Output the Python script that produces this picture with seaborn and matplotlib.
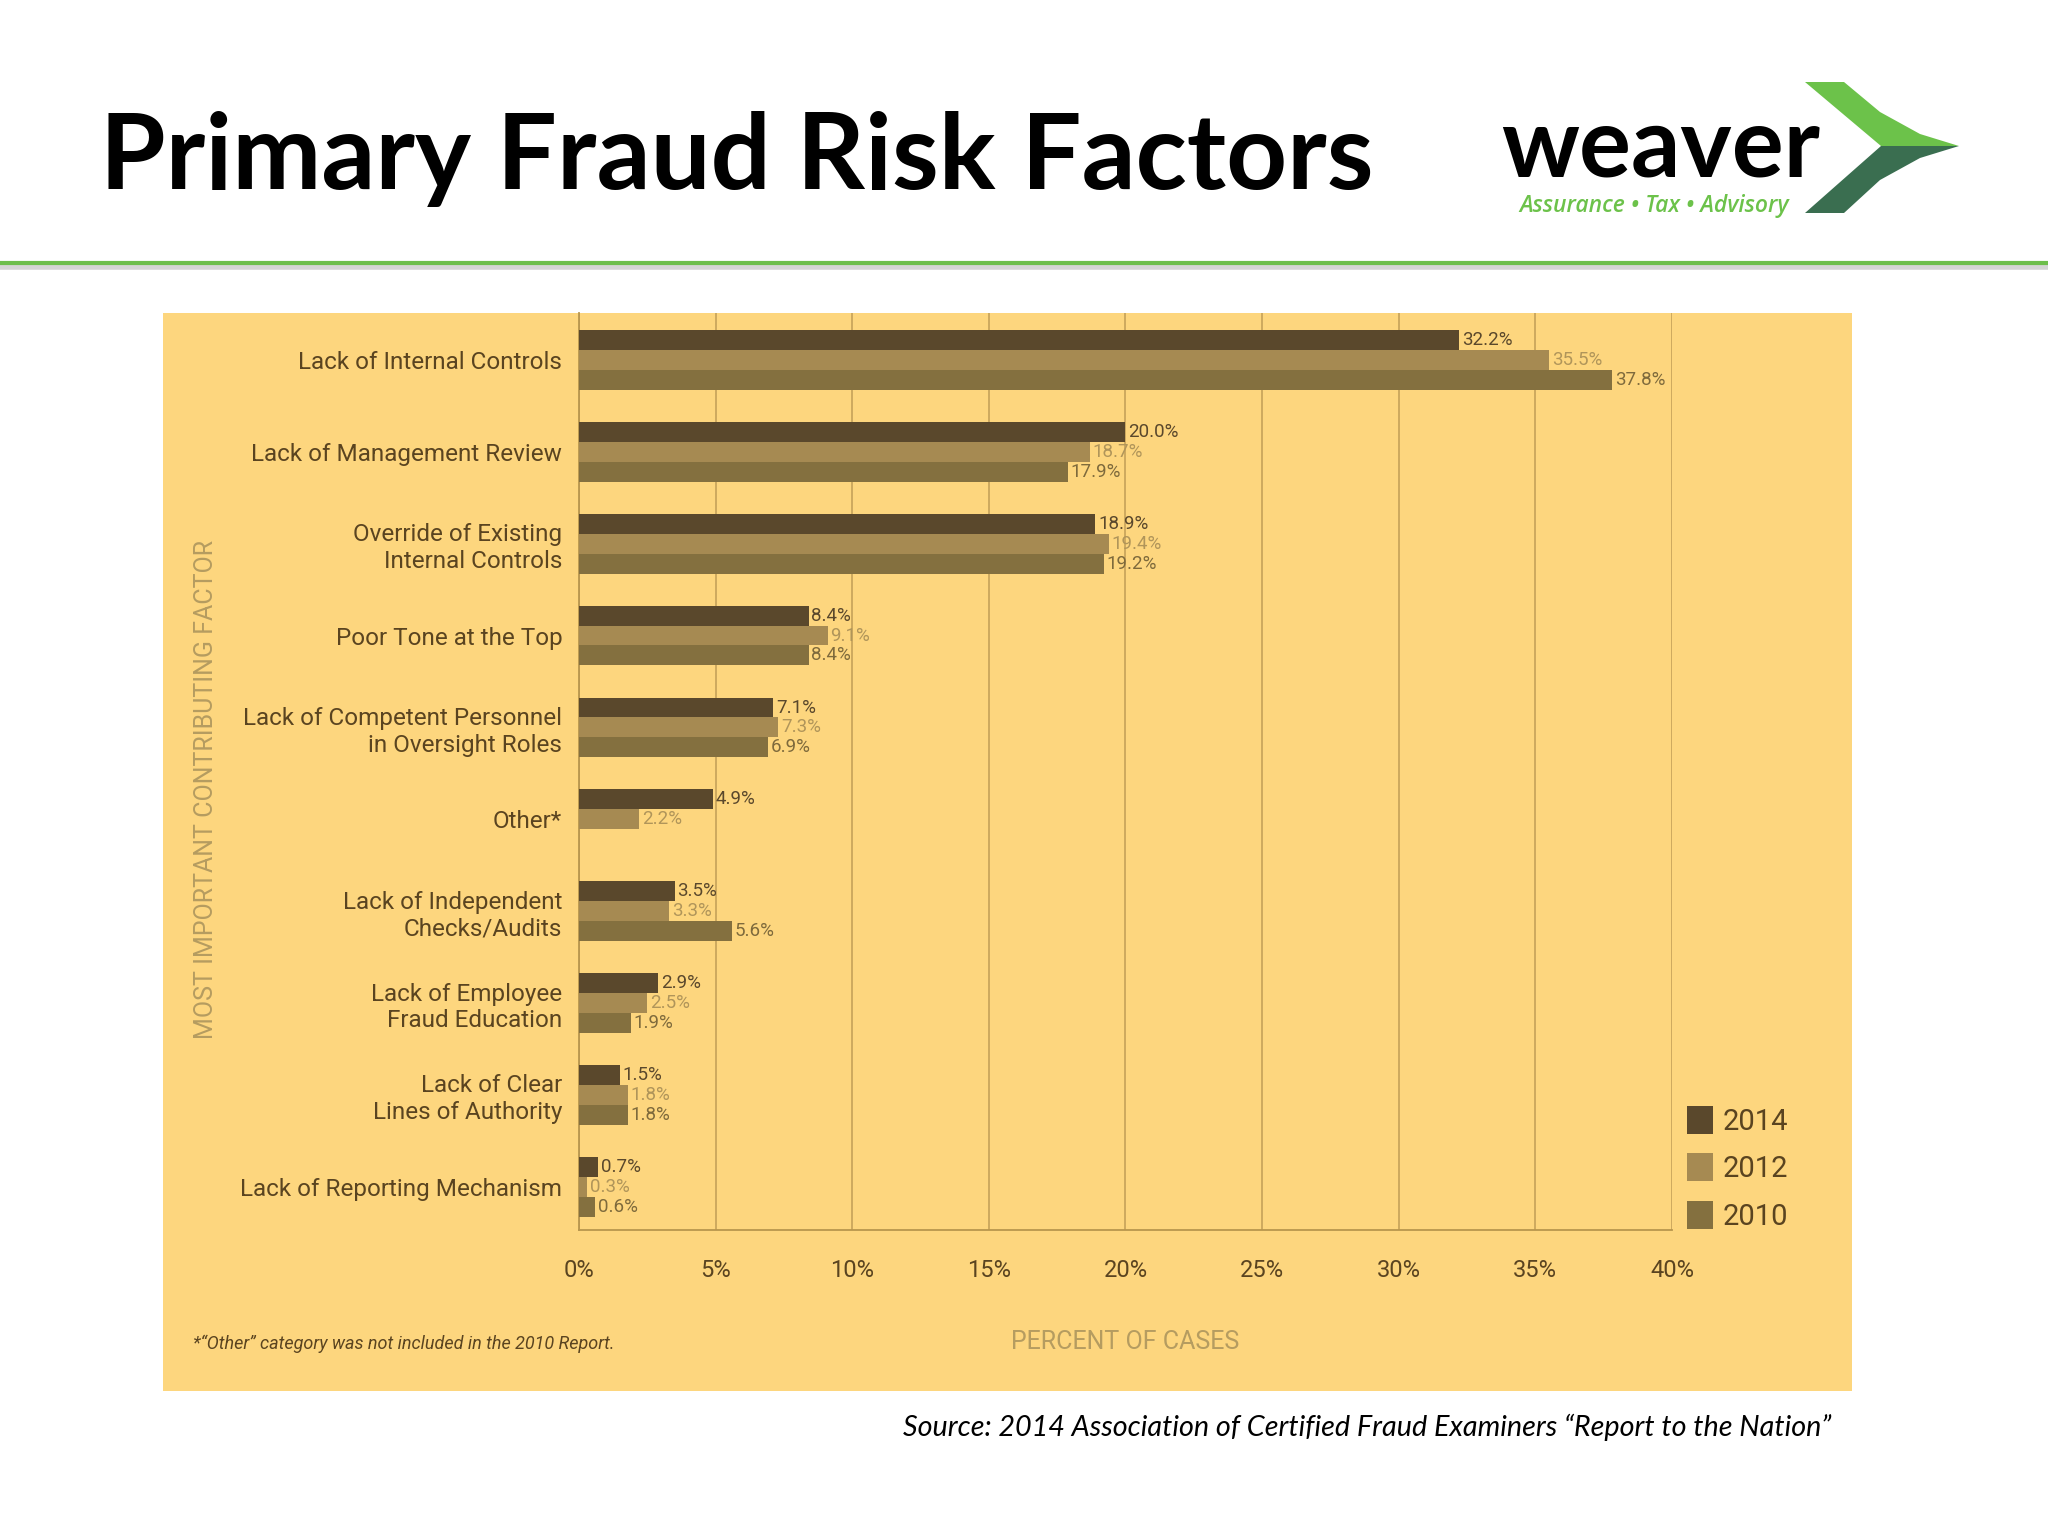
"""Primary Fraud Risk Factors - grouped horizontal bars (2014 / 2012 / 2010)."""
import numpy as np
import pandas as pd
import matplotlib
matplotlib.use('Agg')
import matplotlib.pyplot as plt
from matplotlib.patches import Rectangle, Polygon, Patch
from matplotlib.lines import Line2D
import seaborn as sns

# ── data ────────────────────────────────────────────────────────────────
FACTORS = ['Lack of Internal Controls', 'Lack of Management Review',
           'Override of Existing\nInternal Controls', 'Poor Tone at the Top',
           'Lack of Competent Personnel\nin Oversight Roles', 'Other*',
           'Lack of Independent\nChecks/Audits', 'Lack of Employee\nFraud Education',
           'Lack of Clear\nLines of Authority', 'Lack of Reporting Mechanism']
YEARS = ['2014', '2012', '2010']
PCT_2014 = [32.2, 20.0, 18.9, 8.4, 7.1, 4.9, 3.5, 2.9, 1.5, 0.7]
PCT_2012 = [35.5, 18.7, 19.4, 9.1, 7.3, 2.2, 3.3, 2.5, 1.8, 0.3]
PCT_2010 = [37.8, 17.9, 19.2, 8.4, 6.9, np.nan, 5.6, 1.9, 1.8, 0.6]
XTICKS = [0, 5, 10, 15, 20, 25, 30, 35, 40]

BG = '#FDD67E'
BAR_COLS = ['#5A482C', '#A68A52', '#84703F']
LBL_COLS = ['#5A482C', '#B0955A', '#7E6A3C']
TXT = '#5A4420'
NARROW = ['Liberation Sans Narrow', 'Roboto', 'DejaVu Sans']

df = pd.DataFrame({'factor': FACTORS * 3,
                   'year': np.repeat(YEARS, len(FACTORS)),
                   'pct': PCT_2014 + PCT_2012 + PCT_2010}).dropna()

sns.set_style('white')
plt.rcParams['font.family'] = NARROW

fig = plt.figure(figsize=(20.48, 15.36), dpi=100)
fig.patch.set_facecolor('white')

# yellow panel behind the chart
fig.patches.append(Rectangle((0.0796, 0.0944), 0.8247, 0.7018, transform=fig.transFigure,
                             facecolor=BG, edgecolor='none', zorder=-5))

ax = fig.add_axes([0.2827, 0.1992, 0.5337, 0.597])
ax.set_zorder(2)
ax.set_facecolor(BG)
sns.barplot(data=df, y='factor', x='pct', hue='year', order=FACTORS, hue_order=YEARS,
            palette=BAR_COLS, orient='h', width=0.65, saturation=1, dodge=True,
            linewidth=0, ax=ax, legend=False, zorder=3)

for cont, col in zip(ax.containers, LBL_COLS):
    ax.bar_label(cont, labels=[f'{v:.1f}%' for v in cont.datavalues], padding=2,
                 color=col, fontsize=13.5, family=NARROW)

ax.set_xlim(0, 40)
ax.set_ylim(9.47, -0.51)
ax.set_xticks(XTICKS)
ax.set_xticklabels([f'{t}%' for t in XTICKS])
ax.xaxis.grid(True, color='#C9A65C', linewidth=1.3, zorder=0)
ax.yaxis.grid(False)
ax.set_axisbelow(True)
for s in ['left', 'bottom']:
    ax.spines[s].set_color('#B8964E')
    ax.spines[s].set_linewidth(1.3)
for s in ['top', 'right']:
    ax.spines[s].set_visible(False)
ax.tick_params(axis='y', length=0, pad=12, labelsize=17.5, labelcolor=TXT)
ax.tick_params(axis='x', length=0, pad=21, labelsize=17, labelcolor=TXT)

ax.set_xlabel('PERCENT OF CASES', fontsize=18, color='#B59C60')
ax.xaxis.set_label_coords(0.5, -0.109)
ax.set_ylabel('MOST IMPORTANT CONTRIBUTING FACTOR', fontsize=18, color='#B59C60')
ax.yaxis.set_label_coords(-0.330, 0.48)

handles = [Patch(facecolor=c, edgecolor='none') for c in BAR_COLS]
fig.legend(handles, YEARS, loc='upper left', bbox_to_anchor=(0.811, 0.297),
           frameon=False, handlelength=0.9, handleheight=1.1, handletextpad=0.3,
           labelspacing=0.6, fontsize=21, labelcolor=TXT)

fig.text(0.094, 0.125, '*\u201cOther\u201d category was not included in the 2010 Report.',
         fontsize=13, style='italic', color=TXT, va='center')

# ── header ──────────────────────────────────────────────────────────────
fig.text(0.049, 0.877, 'Primary Fraud Risk Factors', fontsize=76.5, fontweight='bold',
         family=['Lato', 'DejaVu Sans'], color='black', va='baseline')
fig.text(0.733, 0.885, 'weaver', fontsize=70, fontweight='bold',
         family=['Lato', 'DejaVu Sans'], color='black', va='baseline')
fig.text(0.742, 0.866, 'Assurance \u2022 Tax \u2022 Advisory', fontsize=16.5, style='italic',
         fontweight='semibold', family=['Open Sans', 'DejaVu Sans'], color='#6CC24A',
         va='center')


def fxy(px, py):
    return (px / 2048, 1 - py / 1536)


upper = [fxy(1805, 82), fxy(1844, 82), fxy(1880, 112), fxy(1920, 134), fxy(1959, 146), fxy(1881, 146)]
lower = [fxy(1881, 146), fxy(1959, 146), fxy(1920, 158), fxy(1880, 180), fxy(1844, 213), fxy(1805, 213)]
fig.patches.append(Polygon(upper, closed=True, transform=fig.transFigure,
                           facecolor='#6CC24A', edgecolor='none'))
fig.patches.append(Polygon(lower, closed=True, transform=fig.transFigure,
                           facecolor='#3A6E50', edgecolor='none'))

fig.add_artist(Line2D([0, 1], [1 - 267 / 1536] * 2, color='#D4D4D4', linewidth=4,
                      transform=fig.transFigure))
fig.add_artist(Line2D([0, 1], [1 - 263 / 1536] * 2, color='#6DBE4B', linewidth=3,
                      transform=fig.transFigure))

fig.text(0.894, 0.071, 'Source: 2014 Association of Certified Fraud Examiners \u201cReport to the Nation\u201d',
         fontsize=20.7, style='italic', family=['Lato', 'DejaVu Sans'], color='black',
         ha='right', va='center')

fig.savefig('out.png', dpi=100, facecolor='white')
